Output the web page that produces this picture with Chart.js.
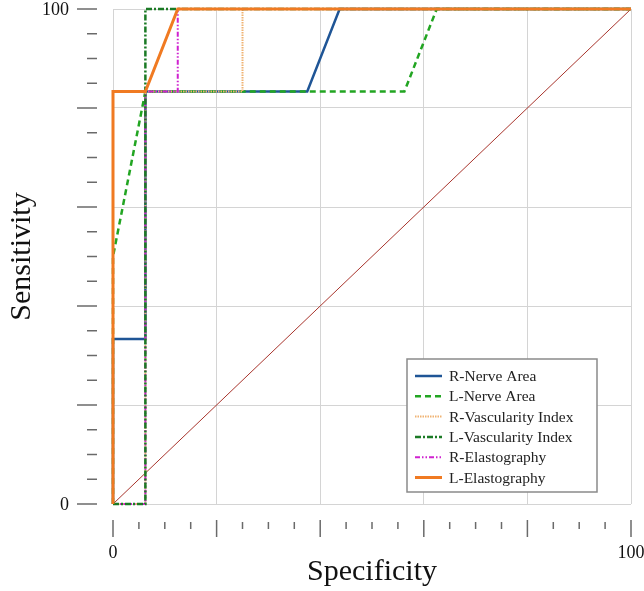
<!DOCTYPE html>
<html>
<head>
<meta charset="utf-8">
<script src="https://cdn.jsdelivr.net/npm/chart.js@4.4.1/dist/chart.umd.min.js"></script>
<style>
  body { margin: 0; background: #fff; }
  canvas { display: block; }
</style>
</head>
<body>
<canvas id="roc" width="644" height="591"></canvas>
<script>
// specificity (x) / sensitivity (y) points per curve
var rNerveX = [0, 0, 6.25, 6.25, 37.5, 43.75, 100];
var rNerveY = [0, 33.33, 33.33, 83.33, 83.33, 100, 100];
var lNerveX = [0, 0, 6.25, 56.25, 62.5, 100];
var lNerveY = [0, 50, 83.33, 83.33, 100, 100];
var rVascX = [0, 6.25, 6.25, 25, 25, 100];
var rVascY = [0, 0, 83.33, 83.33, 100, 100];
var lVascX = [0, 6.25, 6.25, 100];
var lVascY = [0, 0, 100, 100];
var rElastoX = [0, 6.25, 6.25, 12.5, 12.5, 100];
var rElastoY = [0, 0, 83.33, 83.33, 100, 100];
var lElastoX = [0, 0, 6.25, 12.5, 100];
var lElastoY = [0, 83.33, 83.33, 100, 100];
var refX = [0, 100];
var refY = [0, 100];

var labels = ['R-Nerve Area', 'L-Nerve Area', 'R-Vascularity Index', 'L-Vascularity Index', 'R-Elastography', 'L-Elastography'];
var xLabels = [0, 100];
var yLabels = [0, 100];

function pts(xs, ys) {
    var out = [];
    for (var i = 0; i < xs.length; i++) out.push({x: xs[i], y: ys[i]});
    return out;
}

var serif = '"Liberation Serif", "DejaVu Serif", serif';

var styles = [
    {color: '#1f5596', dash: [], width: 2.5, order: 5},
    {color: '#22a522', dash: [6, 4], width: 2.5, order: 4},
    {color: '#f0b373', dash: [1.5, 1], width: 2, order: 3},
    {color: '#1b7a25', dash: [6, 2, 2, 2], width: 2.5, order: 1},
    {color: '#d022d0', dash: [5, 2, 1.5, 2, 1.5, 2], width: 2, order: 2},
    {color: '#f07a22', dash: [], width: 3, order: 0}
];
var series = [
    pts(rNerveX, rNerveY), pts(lNerveX, lNerveY), pts(rVascX, rVascY),
    pts(lVascX, lVascY), pts(rElastoX, rElastoY), pts(lElastoX, lElastoY)
];

var datasets = [];
for (var i = 0; i < series.length; i++) {
    datasets.push({
        label: labels[i],
        data: series[i],
        borderColor: styles[i].color,
        borderDash: styles[i].dash,
        borderWidth: styles[i].width,
        order: styles[i].order,
        clip: false,
        pointRadius: 0,
        tension: 0,
        fill: false
    });
}
datasets.push({
    label: 'ref',
    data: pts(refX, refY),
    borderColor: '#a8342c',
    borderWidth: 1,
    order: 9,
    clip: false,
    pointRadius: 0,
    fill: false
});

// outside tick marks, end labels and inset legend
var decorations = {
    id: 'decorations',
    afterDraw: function(chart) {
        var ctx = chart.ctx;
        var xs = chart.scales.x, ys = chart.scales.y;
        ctx.save();
        ctx.strokeStyle = '#6a6a6a';
        ctx.lineWidth = 1.5;
        for (var v = 0; v <= 100; v += 5) {
            var major = v % 20 === 0;
            var py = ys.getPixelForValue(v);
            ctx.beginPath();
            ctx.moveTo(major ? 77 : 87, py);
            ctx.lineTo(97, py);
            ctx.stroke();
            var px = xs.getPixelForValue(v);
            ctx.beginPath();
            ctx.moveTo(px, major ? 520 : 522);
            ctx.lineTo(px, major ? 537 : 529);
            ctx.stroke();
        }

        ctx.fillStyle = '#111';
        ctx.font = '18px ' + serif;
        ctx.textBaseline = 'middle';
        ctx.textAlign = 'right';
        yLabels.forEach(function(v) { ctx.fillText(String(v), 69, ys.getPixelForValue(v) + 1); });
        ctx.textAlign = 'center';
        xLabels.forEach(function(v) { ctx.fillText(String(v), xs.getPixelForValue(v), 553); });

        // legend box
        var bx = 407, by = 359, bw = 190, bh = 133;
        ctx.fillStyle = '#fff';
        ctx.fillRect(bx, by, bw, bh);
        ctx.strokeStyle = '#8a8a8a';
        ctx.lineWidth = 1.5;
        ctx.strokeRect(bx, by, bw, bh);
        ctx.font = '15.5px ' + serif;
        ctx.textAlign = 'left';
        ctx.fillStyle = '#222';
        for (var k = 0; k < labels.length; k++) {
            var ry = 376 + k * 20.3;
            ctx.beginPath();
            ctx.setLineDash(styles[k].dash);
            ctx.strokeStyle = styles[k].color;
            ctx.lineWidth = styles[k].width;
            ctx.moveTo(415, ry);
            ctx.lineTo(442, ry);
            ctx.stroke();
            ctx.setLineDash([]);
            ctx.fillText(labels[k], 449, ry + 1);
        }
        ctx.restore();
    }
};

function gridColor(c) {
    return c.tick && c.tick.value % 20 === 0 ? '#d4d4d4' : 'rgba(0,0,0,0)';
}

new Chart(document.getElementById('roc'), {
    type: 'line',
    data: {datasets: datasets},
    plugins: [decorations],
    options: {
        responsive: false,
        animation: false,
        layout: {padding: {top: 9, right: 13, left: 0, bottom: 0}},
        plugins: {legend: {display: false}, tooltip: {enabled: false}},
        scales: {
            x: {
                type: 'linear', min: 0, max: 100,
                border: {display: false},
                grid: {color: gridColor, drawTicks: false, lineWidth: 1},
                ticks: {stepSize: 5, display: false},
                title: {display: true, text: 'Specificity', color: '#111',
                    font: {family: serif, size: 30}, padding: {top: 0, bottom: 1}},
                afterFit: function(s) { s.height = 87; }
            },
            y: {
                type: 'linear', min: 0, max: 100,
                border: {display: false},
                grid: {color: gridColor, drawTicks: false, lineWidth: 1},
                ticks: {stepSize: 5, display: false},
                title: {display: true, text: 'Sensitivity', color: '#111',
                    font: {family: serif, size: 30}, padding: {top: 4, bottom: 0}},
                afterFit: function(s) { s.width = 113; }
            }
        }
    }
});
</script>
</body>
</html>
